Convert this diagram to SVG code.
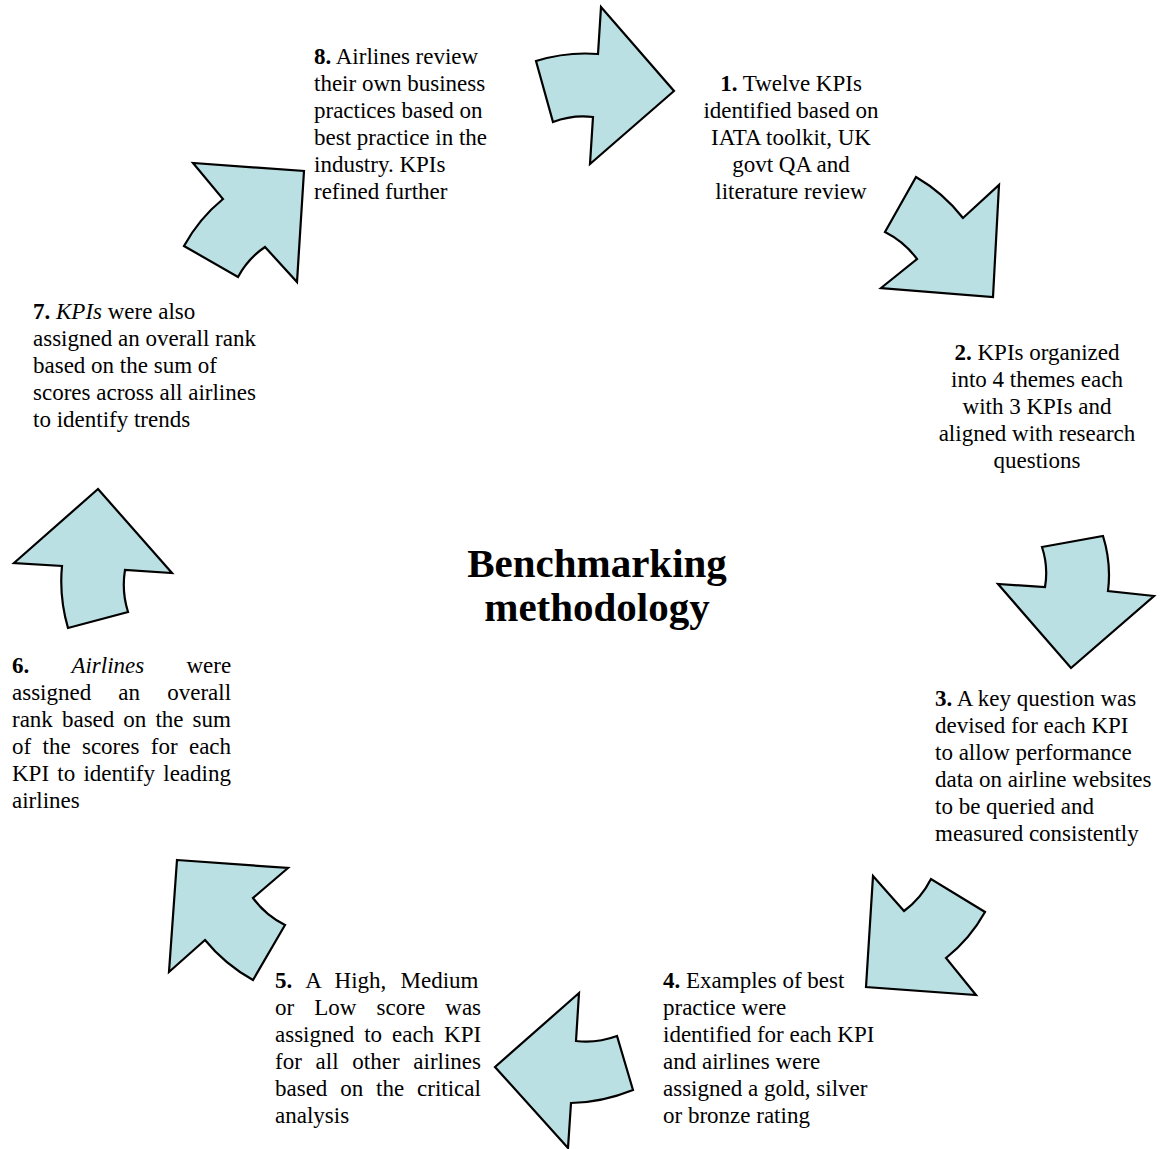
<svg xmlns="http://www.w3.org/2000/svg" width="1162" height="1149" viewBox="0 0 1162 1149">
<style>
.arrow{fill:#bbe0e3;stroke:#000;stroke-width:2.2;stroke-linejoin:miter}
.t{font-family:"Liberation Serif","Times New Roman",serif;font-size:23px;fill:#000}
.c{text-anchor:middle}
.b{font-weight:bold}
.i{font-style:italic}
.title{font-family:"Liberation Serif","Times New Roman",serif;font-size:41px;font-weight:bold;text-anchor:middle;fill:#000}
</style>
<rect width="1162" height="1149" fill="#fff"/>
<g id="connectors">
<path class="arrow" d="M536,61 Q566.7,51.5 598,54 L601,7 L674,91 L590,164 L593,117 Q572.7,114.5 553,122 Z"/>
<path class="arrow" d="M916,177 Q943.5,193 963,218 L999,185 L993,297 L881,288 L917,259 Q904.4,241.8 885,232 Z"/>
<path class="arrow" d="M1042,547 L1103,536 Q1111.5,563.3 1108,591 L1154,596 L1071,668 L998,584 L1045,587 Q1048.5,566.9 1042,547 Z"/>
<path class="arrow" d="M873,876 L904,911 Q921.1,898.5 931,879 L985,912 Q969.8,939.2 946,958 L976,995 L866,987 Z"/>
<path class="arrow" d="M579,993 L576,1041 Q596.5,1043.5 617,1036 L633,1090 Q602,1102.5 571,1103 L568,1148 L495,1067 Z"/>
<path class="arrow" d="M177,860 L288,868 L253,898 Q265.5,915.1 285,925 L253,980 Q224.8,964.3 205,940 L169,972 Z"/>
<path class="arrow" d="M98,489 L172,573 L125,570 Q121.5,591.1 128,612 L68,628 Q59,597.2 62,566 L14,563 Z"/>
<path class="arrow" d="M304,171 L297,282 L265,247 Q247.8,258.6 238,277 L184,246 Q199.1,218.5 223,199 L193,163 Z"/>
</g>
<g id="title">
<text class="title" x="597" y="577">Benchmarking</text>
<text class="title" x="597" y="621">methodology</text>
</g>
<g id="step8">
<text class="t" x="314" y="64"><tspan class="b">8.</tspan> Airlines review</text>
<text class="t" x="314" y="91">their own business</text>
<text class="t" x="314" y="118">practices based on</text>
<text class="t" x="314" y="145">best practice in the</text>
<text class="t" x="314" y="172">industry. KPIs</text>
<text class="t" x="314" y="199">refined further</text>
</g>
<g id="step1">
<text class="t c" x="791" y="91"><tspan class="b">1.</tspan> Twelve KPIs</text>
<text class="t c" x="791" y="118">identified based on</text>
<text class="t c" x="791" y="145">IATA toolkit, UK</text>
<text class="t c" x="791" y="172">govt QA and</text>
<text class="t c" x="791" y="199">literature review</text>
</g>
<g id="step2">
<text class="t c" x="1037" y="360"><tspan class="b">2.</tspan> KPIs organized</text>
<text class="t c" x="1037" y="387">into 4 themes each</text>
<text class="t c" x="1037" y="414">with 3 KPIs and</text>
<text class="t c" x="1037" y="441">aligned with research</text>
<text class="t c" x="1037" y="468">questions</text>
</g>
<g id="step3">
<text class="t" x="935" y="706"><tspan class="b">3.</tspan> A key question was</text>
<text class="t" x="935" y="733">devised for each KPI</text>
<text class="t" x="935" y="760">to allow performance</text>
<text class="t" x="935" y="787">data on airline websites</text>
<text class="t" x="935" y="814">to be queried and</text>
<text class="t" x="935" y="841">measured consistently</text>
</g>
<g id="step4">
<text class="t" x="663" y="988"><tspan class="b">4.</tspan> Examples of best</text>
<text class="t" x="663" y="1015">practice were</text>
<text class="t" x="663" y="1042">identified for each KPI</text>
<text class="t" x="663" y="1069">and airlines were</text>
<text class="t" x="663" y="1096">assigned a gold, silver</text>
<text class="t" x="663" y="1123">or bronze rating</text>
</g>
<g id="step5">
<text class="t" x="275" y="988" word-spacing="8.4"><tspan class="b">5.</tspan> A High, Medium</text>
<text class="t" x="275" y="1015" word-spacing="14.4">or Low score was</text>
<text class="t" x="275" y="1042" word-spacing="4.2">assigned to each KPI</text>
<text class="t" x="275" y="1069" word-spacing="8">for all other airlines</text>
<text class="t" x="275" y="1096" word-spacing="7.1">based on the critical</text>
<text class="t" x="275" y="1123">analysis</text>
</g>
<g id="step6">
<text class="t" x="12" y="673" word-spacing="36.4"><tspan class="b">6.</tspan> <tspan class="i">Airlines</tspan> were</text>
<text class="t" x="12" y="700" word-spacing="21.4">assigned an overall</text>
<text class="t" x="12" y="727" word-spacing="3.3">rank based on the sum</text>
<text class="t" x="12" y="754" word-spacing="5.6">of the scores for each</text>
<text class="t" x="12" y="781" word-spacing="2.5">KPI to identify leading</text>
<text class="t" x="12" y="808">airlines</text>
</g>
<g id="step7">
<text class="t" x="33" y="319"><tspan class="b">7.</tspan> <tspan class="i">KPIs</tspan> were also</text>
<text class="t" x="33" y="346">assigned an overall rank</text>
<text class="t" x="33" y="373">based on the sum of</text>
<text class="t" x="33" y="400">scores across all airlines</text>
<text class="t" x="33" y="427">to identify trends</text>
</g>
</svg>
